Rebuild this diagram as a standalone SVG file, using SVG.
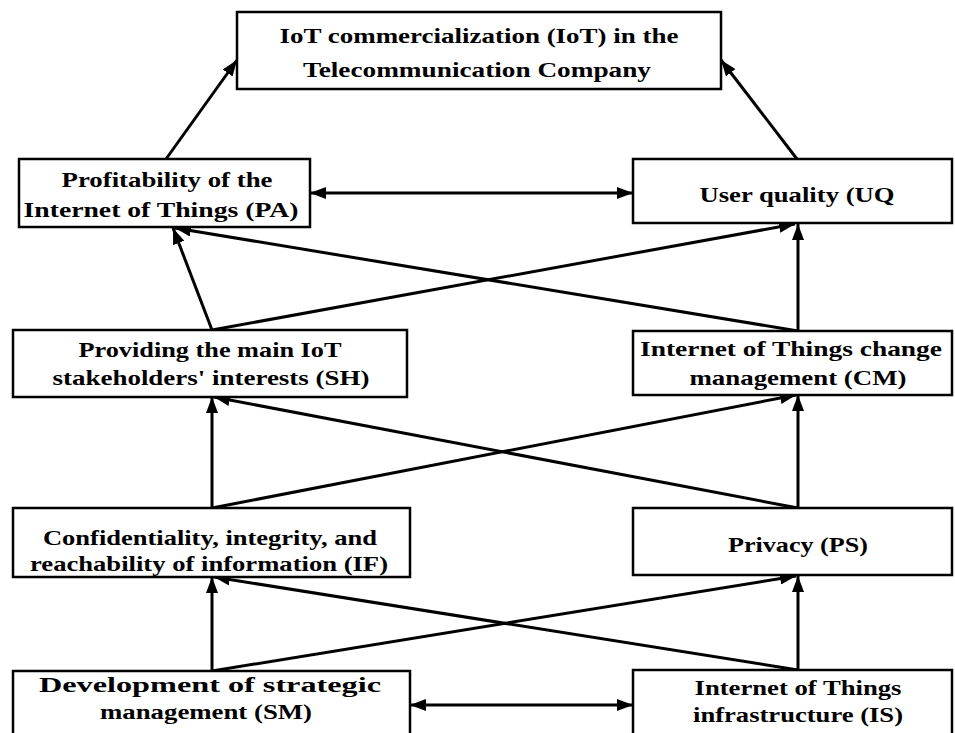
<svg xmlns="http://www.w3.org/2000/svg" width="955" height="733" viewBox="0 0 955 733">
<style>
.box{fill:#fff;stroke:#000;stroke-width:2.5}
.t{font-family:"Liberation Serif","Times New Roman",serif;font-weight:bold;font-size:22px;text-anchor:middle;fill:#000}
.s{font-size:20px}
.c{stroke:#000;stroke-width:3;fill:none}
</style>
<defs>
<marker id="ah" viewBox="0 0 16 12" refX="16" refY="6" markerWidth="16" markerHeight="12" markerUnits="userSpaceOnUse" orient="auto-start-reverse">
<path d="M0,0 L16,6 L0,12 Z" fill="#000"/>
</marker>
</defs>
<rect width="955" height="733" fill="#fff"/>
<g id="connectors">
<line class="c" x1="166" y1="159" x2="237" y2="60" marker-end="url(#ah)"/>
<line class="c" x1="797" y1="159" x2="721" y2="60" marker-end="url(#ah)"/>
<line class="c" x1="310" y1="193" x2="633" y2="193" marker-start="url(#ah)" marker-end="url(#ah)"/>
<line class="c" x1="212" y1="330" x2="173" y2="228" marker-end="url(#ah)"/>
<line class="c" x1="212" y1="330" x2="795" y2="224" marker-end="url(#ah)"/>
<line class="c" x1="798" y1="331" x2="798" y2="224" marker-end="url(#ah)"/>
<line class="c" x1="798" y1="331" x2="175" y2="228" marker-end="url(#ah)"/>
<line class="c" x1="212" y1="508" x2="212" y2="397" marker-end="url(#ah)"/>
<line class="c" x1="212" y1="508" x2="796" y2="395" marker-end="url(#ah)"/>
<line class="c" x1="798" y1="508" x2="798" y2="395" marker-end="url(#ah)"/>
<line class="c" x1="798" y1="508" x2="214" y2="397" marker-end="url(#ah)"/>
<line class="c" x1="212" y1="671" x2="212" y2="577" marker-end="url(#ah)"/>
<line class="c" x1="212" y1="671" x2="796" y2="576" marker-end="url(#ah)"/>
<line class="c" x1="798" y1="670" x2="798" y2="576" marker-end="url(#ah)"/>
<line class="c" x1="798" y1="670" x2="214" y2="577" marker-end="url(#ah)"/>
<line class="c" x1="410" y1="705" x2="633" y2="705" marker-start="url(#ah)" marker-end="url(#ah)"/>
</g>
<g id="IoT">
<rect class="box" x="237" y="12" width="484" height="77"/>
<text class="t" x="479" y="43" textLength="399" lengthAdjust="spacingAndGlyphs">IoT commercialization (IoT) in the</text>
<text class="t" x="477" y="77" textLength="348" lengthAdjust="spacingAndGlyphs">Telecommunication Company</text>
</g>
<g id="PA">
<rect class="box" x="19" y="159" width="291" height="68"/>
<text class="t" x="167" y="187" textLength="211" lengthAdjust="spacingAndGlyphs">Profitability of the</text>
<text class="t" x="161" y="217" textLength="275" lengthAdjust="spacingAndGlyphs">Internet of Things (PA)</text>
</g>
<g id="UQ">
<rect class="box" x="633" y="159" width="319" height="64"/>
<text class="t" x="797" y="202" textLength="195" lengthAdjust="spacingAndGlyphs">User quality (UQ</text>
</g>
<g id="SH">
<rect class="box" x="13" y="330" width="394" height="67"/>
<text class="t" x="210" y="357" textLength="263" lengthAdjust="spacingAndGlyphs">Providing the main IoT</text>
<text class="t" x="211" y="385" textLength="317" lengthAdjust="spacingAndGlyphs">stakeholders' interests (SH)</text>
</g>
<g id="CM">
<rect class="box" x="633" y="331" width="319" height="64"/>
<text class="t" x="791" y="356" textLength="302" lengthAdjust="spacingAndGlyphs">Internet of Things change</text>
<text class="t" x="798" y="385" textLength="217" lengthAdjust="spacingAndGlyphs">management (CM)</text>
</g>
<g id="IF">
<rect class="box" x="13" y="508" width="397" height="69"/>
<text class="t" x="210" y="545" textLength="334" lengthAdjust="spacingAndGlyphs">Confidentiality, integrity, and</text>
<text class="t" x="209" y="571" textLength="358" lengthAdjust="spacingAndGlyphs">reachability of information (IF)</text>
</g>
<g id="PS">
<rect class="box" x="633" y="508" width="319" height="67"/>
<text class="t" x="798" y="552" textLength="140" lengthAdjust="spacingAndGlyphs">Privacy (PS)</text>
</g>
<g id="SM">
<rect class="box" x="13" y="671" width="397" height="70"/>
<text class="t s" x="210" y="692" textLength="342" lengthAdjust="spacingAndGlyphs">Development of strategic</text>
<text class="t s" x="206" y="719" textLength="212" lengthAdjust="spacingAndGlyphs">management (SM)</text>
</g>
<g id="IS">
<rect class="box" x="633" y="670" width="319" height="70"/>
<text class="t" x="798" y="695" textLength="207" lengthAdjust="spacingAndGlyphs">Internet of Things</text>
<text class="t" x="798" y="722" textLength="210" lengthAdjust="spacingAndGlyphs">infrastructure (IS)</text>
</g>
</svg>
